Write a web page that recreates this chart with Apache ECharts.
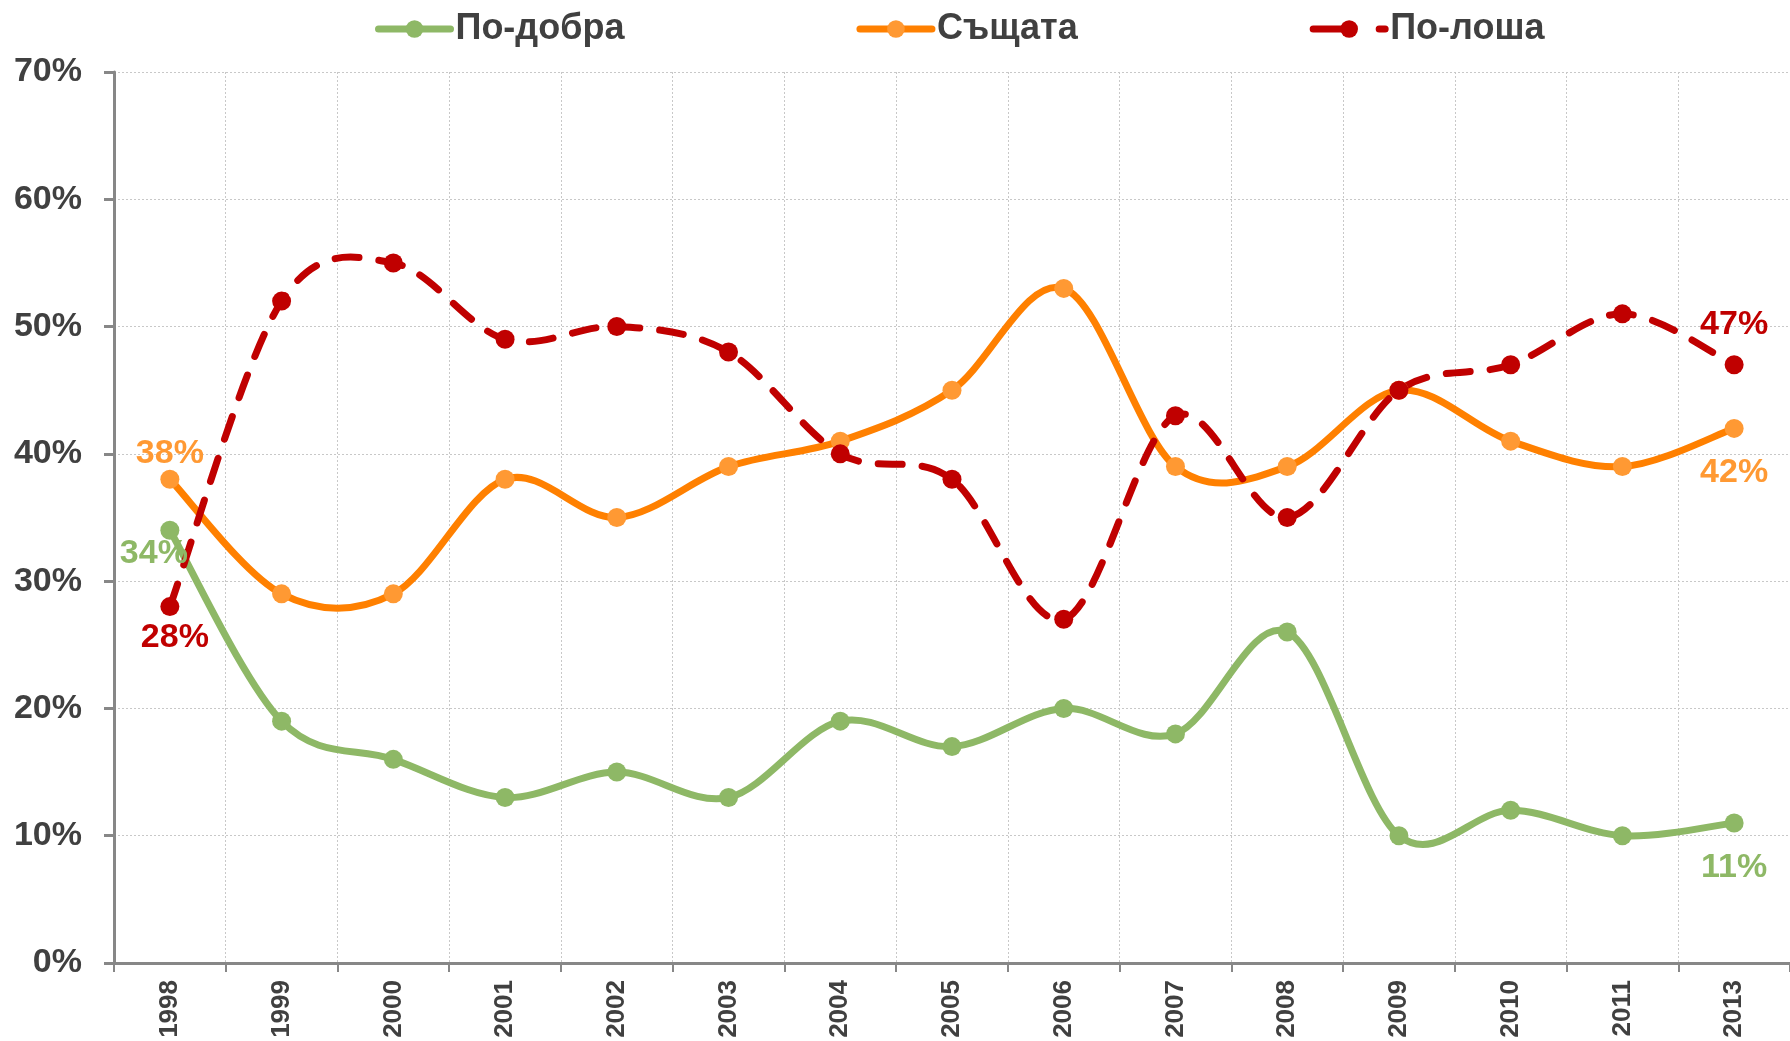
<!DOCTYPE html>
<html>
<head>
<meta charset="utf-8">
<script src="https://cdn.jsdelivr.net/npm/echarts@6/dist/echarts.min.js"></script>
<style>
html,body{margin:0;padding:0;background:#fff;}
#chart{width:1790px;height:1041px;}
</style>
</head>
<body>
<div id="chart"></div>
<script>
const years = ['1998','1999','2000','2001','2002','2003','2004','2005','2006','2007','2008','2009','2010','2011','2013'];
const better = [34,19,16,13,15,13,19,17,20,18,26,10,12,10,11];
const same   = [38,29,29,38,35,39,41,45,53,39,39,45,41,39,42];
const worse  = [28,52,55,49,50,48,40,38,27,43,35,45,47,51,47];
const seriesNames = ['По-добра','Същата','По-лоша'];
const yTicks = [0,10,20,30,40,50,60,70];

const FONT = 'Liberation Sans';
const TXT = '#404040';
const GREEN = '#8EB866', ORANGE = '#FF8000', ORANGE_M = '#FF9933', RED = '#C00000';
const LW = 7;
const DASH = [24, 20];
const LEGEND_DASH = [34, 32];

function endLabels(data, color, firstOff, lastOff) {
  return data.map((v, i) => {
    if (i === 0 || i === data.length - 1) {
      const off = i === 0 ? firstOff : lastOff;
      return {
        value: v,
        label: {
          show: true, position: 'inside', offset: off,
          formatter: '{c}%', color: color,
          fontFamily: FONT, fontWeight: 'bold', fontSize: 34
        }
      };
    }
    return v;
  });
}

// Smooth curve (Catmull-Rom style, like spreadsheet smoothed lines) drawn through the axis scales
function curveSeries(values, color, dash) {
  return {
    type: 'custom', silent: true, z: 2,
    data: values.map((v, i) => [i, v]),
    encode: { x: 0, y: 1 },
    renderItem: function (params, api) {
      if (params.dataIndex !== 0) return null;
      const pts = values.map((v, i) => api.coord([i, v]));
      const n = pts.length;
      let d = 'M' + pts[0][0] + ' ' + pts[0][1];
      for (let i = 0; i < n - 1; i++) {
        const p0 = pts[Math.max(i - 1, 0)], p1 = pts[i], p2 = pts[i + 1], p3 = pts[Math.min(i + 2, n - 1)];
        const c1x = p1[0] + (p2[0] - p0[0]) / 6, c1y = p1[1] + (p2[1] - p0[1]) / 6;
        const c2x = p2[0] - (p3[0] - p1[0]) / 6, c2y = p2[1] - (p3[1] - p1[1]) / 6;
        d += ' C' + c1x + ' ' + c1y + ' ' + c2x + ' ' + c2y + ' ' + p2[0] + ' ' + p2[1];
      }
      return {
        type: 'path',
        shape: { pathData: d },
        style: {
          fill: 'none', stroke: color, lineWidth: LW,
          lineDash: dash || null, lineCap: 'round', lineJoin: 'round'
        }
      };
    }
  };
}

function pointSeries(name, values, lineColor, markColor, labelColor, firstOff, lastOff, dash) {
  return {
    name: name, type: 'line', z: 3,
    data: endLabels(values, labelColor, firstOff, lastOff),
    symbol: 'circle', symbolSize: 19,
    lineStyle: { color: lineColor, width: LW, opacity: 0, type: dash || 'solid', cap: 'round' },
    itemStyle: { color: markColor }
  };
}

const chart = echarts.init(document.getElementById('chart'));
chart.setOption({
  animation: false,
  backgroundColor: '#ffffff',
  legend: {
    left: 370, top: 6,
    itemWidth: 72, itemHeight: 22, itemGap: 232,
    textStyle: { fontFamily: FONT, fontWeight: 'bold', fontSize: 36, color: TXT },
    data: [
      { name: seriesNames[0], lineStyle: { color: GREEN, width: LW, opacity: 1, type: 'solid' } },
      { name: seriesNames[1], lineStyle: { color: ORANGE, width: LW, opacity: 1, type: 'solid' } },
      { name: seriesNames[2], lineStyle: { color: RED, width: LW, opacity: 1, type: LEGEND_DASH, cap: 'round' } }
    ]
  },
  grid: { left: 114, right: 0, top: 72, bottom: 78, containLabel: false },
  xAxis: {
    type: 'category', data: years, boundaryGap: true,
    axisLine: { lineStyle: { color: '#878787', width: 3 } },
    axisTick: { show: true, length: 9, lineStyle: { color: '#878787', width: 2 } },
    axisLabel: { rotate: 90, margin: 17, fontFamily: FONT, fontWeight: 'bold', fontSize: 26, color: TXT },
    splitLine: { show: true, lineStyle: { color: '#C8C8C8', width: 1, type: [2, 2] } }
  },
  yAxis: {
    type: 'value', min: yTicks[0], max: yTicks[yTicks.length - 1], interval: 10,
    axisLine: { show: true, lineStyle: { color: '#878787', width: 3 } },
    axisTick: { show: true, length: 10, lineStyle: { color: '#878787', width: 3 } },
    axisLabel: { formatter: '{value}%', margin: 32, fontFamily: FONT, fontWeight: 'bold', fontSize: 34, color: TXT },
    splitLine: { show: true, lineStyle: { color: '#C8C8C8', width: 1, type: [2, 2] } }
  },
  series: [
    curveSeries(better, GREEN),
    curveSeries(same, ORANGE),
    curveSeries(worse, RED, DASH),
    pointSeries(seriesNames[0], better, GREEN, GREEN, GREEN, [-16, 23], [0, 45]),
    pointSeries(seriesNames[1], same, ORANGE, ORANGE_M, ORANGE_M, [0, -26], [0, 44]),
    pointSeries(seriesNames[2], worse, RED, RED, RED, [5, 31], [0, -40], DASH)
  ]
});
</script>
</body>
</html>
